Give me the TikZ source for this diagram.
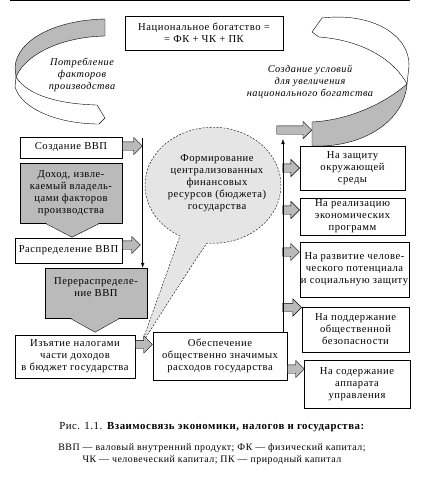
\documentclass[tikz,border=0pt]{standalone}
\usepackage{fontspec}
\setmainfont{Liberation Serif}[LetterSpace=5]
\usetikzlibrary{calc,positioning,arrows.meta,shapes.arrows}

\begin{document}
\begin{tikzpicture}[x=1pt, y=-1pt,
    every node/.style={font=\fontsize{10.6}{12}\selectfont},
    box/.style={rectangle, draw=black, thin, align=center, inner sep=1pt},
    gbox/.style={box, fill=black!27},
    barr/.style={single arrow, draw=black, thin, fill=black!27,
                 minimum height=#1, inner xsep=0pt, inner ysep=4pt,
                 single arrow head extend=4.5pt},
    barr/.default=17pt,
    arr/.style={-{Latex[length=5pt,width=3.5pt]}, thin},
    ribbon/.style={draw=black, thin, line join=round},
    callout/.style={draw=black, fill=black!10, dash pattern=on 2pt off 1.5pt},
    note/.style={font=\fontsize{10.3}{12}\selectfont\itshape, align=center}
]
\useasboundingbox (0,0) rectangle (424,477);
\draw[line width=1.2pt] (10,0.6) -- (410,0.6);

% ribbons
\path[ribbon, fill=black!27] (105,19) .. controls (55,20) and (17,40) .. (15,67)
    -- (16,77) .. controls (25,55) and (60,37) .. (105,36) -- cycle;
\path[ribbon, fill=white] (16,77) -- (15,87) .. controls (22,110) and (60,124) .. (99,124)
    -- (105,118) -- (97,105) .. controls (60,104) and (28,96) .. (16,77) -- cycle;
\path[ribbon, fill=white] (312,32) -- (322,18) .. controls (372,12) and (410,35) .. (409,66)
    -- (407,84) .. controls (393,58) and (360,40) .. (319,37) -- cycle;
\path[ribbon, fill=black!27] (407,84) .. controls (385,103) and (350,120) .. (312,122)
    -- (312,146) .. controls (362,148) and (404,122) .. (407,84) -- cycle;
\node[note] (consume) at (82,75) {Потребление\\факторов\\производства};
\node[note] (growth)  at (310,82) {Создание условий\\для увеличения\\национального богатства};

% callout
\path[callout] (141,345) -- (180,236)
    arc[start angle=119, end angle=455, x radius=68, y radius=58]
    .. controls (205,246) and (198,255) .. (141,345);
\node[align=center] (budget) at (217,183)
    {Формирование\\централизованных\\финансовых\\ресурсов (бюджета)\\государства};

% boxes
\node[box, minimum width=158pt, minimum height=34pt] (wealth) at (204,33)
    {Национальное богатство =\\= ФК + ЧК + ПК};
\node[box, minimum width=102pt, minimum height=21pt] (create) at (71,147.5) {Создание ВВП};
\node[gbox, minimum width=102pt, minimum height=60pt] (income) at (71,193)
    {Доход, извле-\\каемый владель-\\цами факторов\\производства};
\node[box, minimum width=107pt, minimum height=25pt] (distr) at (68.5,250.5) {Распределение ВВП};
\node[gbox, minimum width=102pt, minimum height=50pt] (redistr) at (96,293)
    {Перераспределе-\\ние ВВП\\~};
\node[box, minimum width=120pt, minimum height=43pt] (tax) at (75,356.5)
    {Изъятие налогами\\части доходов\\в бюджет государства};
\node[box, minimum width=134pt, minimum height=48pt] (spend) at (220,356)
    {Обеспечение\\общественно значимых\\расходов государства};
\node[box, minimum width=105pt, minimum height=44pt] (env) at (352.5,168)
    {На защиту\\окружающей\\среды};
\node[box, minimum width=105pt, minimum height=37pt] (econ) at (352.5,216.5)
    {На реализацию\\экономических\\программ};
\node[box, minimum width=109pt, minimum height=55pt] (human) at (354.5,269.5)
    {На развитие челове-\\ческого потенциала\\и социальную защиту};
\node[box, minimum width=107pt, minimum height=45pt] (safety) at (355.5,329.5)
    {На поддержание\\общественной\\безопасности};
\node[box, minimum width=106pt, minimum height=48pt] (admin) at (357,384)
    {На содержание\\аппарата\\управления};

% down heads
\fill[black!27] ($(income.south)+(-26,-0.6)$) -- ($(income.south)+(1,14)$)
    -- ($(income.south)+(29,-0.6)$) -- cycle;
\draw ($(income.south)+(-26,0)$) -- ($(income.south)+(1,14)$) -- ($(income.south)+(29,0)$);
\fill[black!27] ($(redistr.south)+(-26,-0.6)$) -- ($(redistr.south)+(-1,14)$)
    -- ($(redistr.south)+(24,-0.6)$) -- cycle;
\draw ($(redistr.south)+(-26,0)$) -- ($(redistr.south)+(-1,14)$) -- ($(redistr.south)+(24,0)$);

% block arrows
\node[barr=20pt, anchor=tail] (a1) at ([yshift=1.5pt]create.east) {};
\node[barr=18pt, anchor=tail] (a2) at ([yshift=5.5pt]distr.east) {};
\node[barr=17pt, anchor=tail] (a3) at ([yshift=12pt]tax.east) {};
\node[barr=35pt, anchor=tip]  (a0) at (312,130) {};
\node[barr, anchor=tip] (a4) at (env.west) {};
\node[barr, anchor=tip] (a5) at ([yshift=6.5pt]econ.west) {};
\node[barr, anchor=tip] (a6) at ([yshift=17.5pt]human.west) {};
\node[barr=19pt, anchor=tip] (a7) at ([yshift=22pt]safety.west) {};
\node[barr, anchor=tail] (a8) at ([yshift=-13pt]spend.east) {};

% thin arrows
\coordinate (up) at (283,139);
\draw[arr] ([yshift=8pt]a1.tip) -- (a1.tip |- redistr.north);
\draw[arr] (up |- spend.north) -- (up);

% caption
\node[font=\fontsize{10.8}{13}\selectfont] (cap) at (212,427)
    {Рис. 1.1. \textbf{Взаимосвязь экономики, налогов и государства:}};
\node[font=\fontsize{9.9}{12}\selectfont, align=center] (legend) at (212,454)
    {ВВП — валовый внутренний продукт; ФК — физический капитал;\\ЧК — человеческий капитал; ПК — природный капитал};
\end{tikzpicture}
\end{document}
